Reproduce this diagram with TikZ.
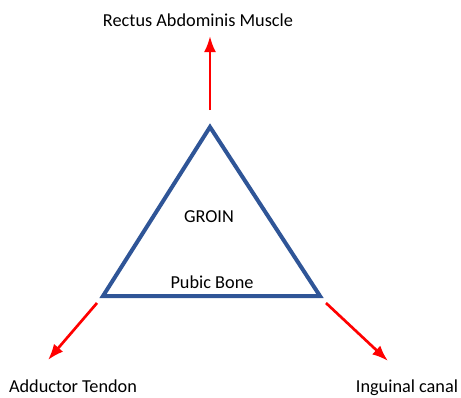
\documentclass[tikz,border=0pt]{standalone}
\usepackage{fontspec}
\setmainfont{Carlito}
\usepackage{tikz}
\usetikzlibrary{arrows.meta,positioning,calc}

\definecolor{groinblue}{HTML}{2F5597}

\begin{document}
\begin{tikzpicture}[x=0.75pt,y=-0.75pt,>=Latex,
  label/.style={font=\fontsize{13.7}{15}\selectfont,inner sep=0pt,anchor=base},
  pull/.style={->,red,line width=2pt}]

  \useasboundingbox (0,0) rectangle (461,397);

  % -- TRIANGLE ------------------------------------------------------
  \coordinate (apex) at (210,127);
  \coordinate (baseL) at (103,296);
  \coordinate (baseR) at (320,296);
  \draw[groinblue,line width=3pt,line join=miter] (apex) -- (baseL) -- (baseR) -- cycle;

  \node[label] (groin) at (209,222) {GROIN};
  \node[label] (pubic) at (212,288) {Pubic Bone};

  % -- LABELS --------------------------------------------------------
  \node[label] (rectus) at (198,26) {Rectus Abdominis Muscle};
  \node[label] (adductor) at (73,392) {Adductor Tendon};
  \node[label] (inguinal) at (407,392) {Inguinal canal};

  % -- ARROWS --------------------------------------------------------
  \coordinate (upS) at (210,110);
  \coordinate (upE) at (210,36);
  \coordinate (leftS) at (97,303);
  \coordinate (leftE) at (48,360);
  \coordinate (rightS) at (326,303);
  \coordinate (rightE) at (388,361);
  \draw[pull] (upS) -- (upE);
  \draw[pull] (leftS) -- (leftE);
  \draw[pull] (rightS) -- (rightE);

\end{tikzpicture}
\end{document}
